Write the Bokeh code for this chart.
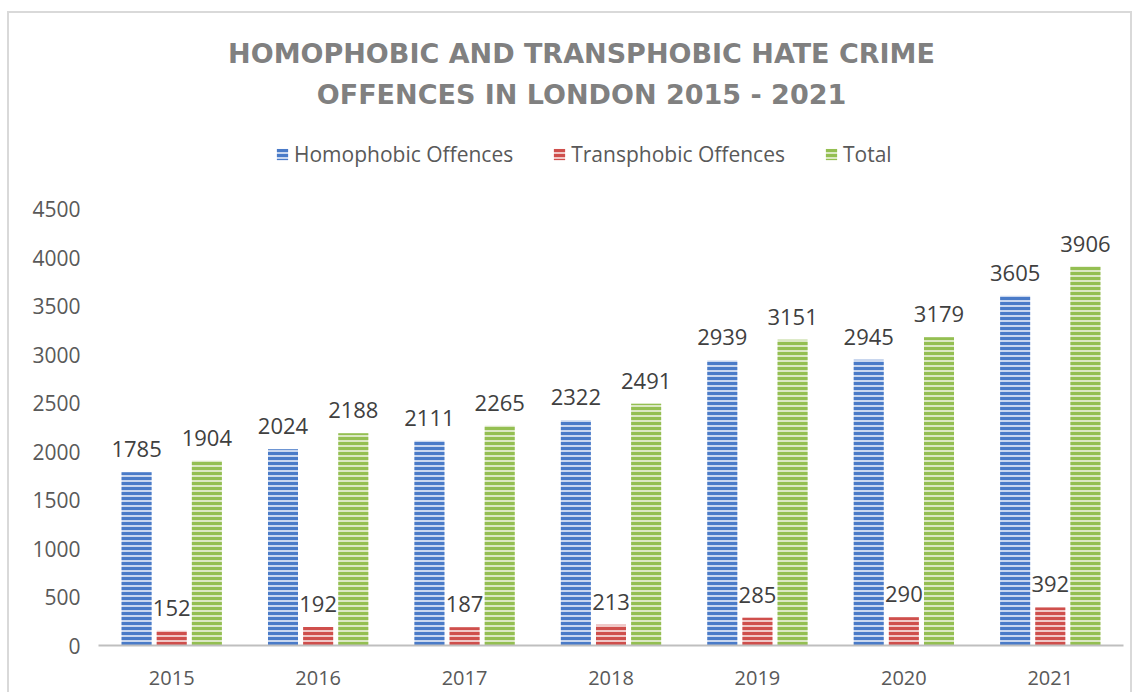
from bokeh.plotting import figure
from bokeh.models import ColumnDataSource, FactorRange, Legend, LegendItem, Label
from bokeh.transform import dodge
from bokeh.core.properties import value
from bokeh.embed import file_html
from bokeh.resources import INLINE

years = ["2015", "2016", "2017", "2018", "2019", "2020", "2021"]
homophobic = [1785, 2024, 2111, 2322, 2939, 2945, 3605]
transphobic = [152, 192, 187, 213, 285, 290, 392]
total = [1904, 2188, 2265, 2491, 3151, 3179, 3906]
series_names = ["Homophobic Offences", "Transphobic Offences", "Total"]
y_ticks = [0, 500, 1000, 1500, 2000, 2500, 3000, 3500, 4000, 4500]
title_lines = ["HOMOPHOBIC AND TRANSPHOBIC HATE CRIME", "OFFENCES IN LONDON 2015 - 2021"]

src = ColumnDataSource(dict(
    years=years, h=homophobic, t=transphobic, tot=total,
    hl=[str(v) for v in homophobic], tl=[str(v) for v in transphobic], totl=[str(v) for v in total],
))

FONT = "Open Sans"

# frame spans from the canvas top to the x axis; the 0-4500 scale occupies its lower part
FRAME_H = 645
AXIS_PX = 436.5
Y_END = 4500 * FRAME_H / AXIS_PX

p = figure(width=1132, height=692, x_range=FactorRange(*years), y_range=(0, Y_END),
           output_backend="svg", toolbar_location=None,
           min_border_left=98, min_border_right=9, min_border_top=0, min_border_bottom=47)
GR = "linear-gradient(#d9d9d9,#d9d9d9)"
p.styles = {"background": (f"{GR} 7px 11px / 2px calc(100% - 11px) no-repeat, "
                           f"{GR} 7px 11px / calc(100% - 9px) 2px no-repeat, "
                           f"{GR} calc(100% - 0px) 11px / 2px calc(100% - 11px) no-repeat, "
                           "#ffffff")}
p.border_fill_color = None
p.background_fill_color = None
p.outline_line_color = None
p.xgrid.grid_line_color = None
p.ygrid.grid_line_color = None
p.x_range.range_padding = 0

fills = ["#c9d7ef", "#f0c8c7", "#dbe8c4"]
hatches = ["#4a7bc8", "#cf4f4c", "#94bf52"]
fields = ["h", "t", "tot"]
labels = ["hl", "tl", "totl"]
offsets = [-0.24, 0.0, 0.24]
renderers = []
for f, lab, off, fc, hc in zip(fields, labels, offsets, fills, hatches):
    r = p.vbar(x=dodge("years", off, range=p.x_range), top=f, width=0.205, source=src,
               fill_color=fc, line_color=None, hatch_pattern="horizontal_line",
               hatch_color=hc, hatch_weight=3, hatch_scale=5)
    renderers.append(r)
    p.text(x=dodge("years", off, range=p.x_range), y=f, text=lab, source=src,
           text_align="center", text_baseline="alphabetic", y_offset=-23,
           text_font=value(FONT), text_font_size="22px", text_color="#404040")

legend = Legend(items=[LegendItem(label=n, renderers=[r]) for n, r in zip(series_names, renderers)],
                orientation="horizontal", location=(177, 477), padding=0, margin=0,
                border_line_color=None, background_fill_alpha=0,
                glyph_width=14, glyph_height=14, label_standoff=5, spacing=39,
                label_height=20,
                label_text_font=FONT, label_text_font_size="21px", label_text_color="#595959")
p.add_layout(legend, "center")

for txt, yy in zip(title_lines, [592, 551]):
    p.add_layout(Label(x=483, y=yy, x_units="screen", y_units="screen", text=txt,
                       text_align="center", text_baseline="alphabetic",
                       text_font="DejaVu Sans", text_font_style="bold", text_font_size="27px",
                       text_color="#808080"))

p.yaxis.ticker = y_ticks
p.yaxis.axis_line_color = None
p.yaxis.major_tick_line_color = None
p.yaxis.minor_tick_line_color = None
p.yaxis.major_label_standoff = 12
p.yaxis.major_label_text_font = FONT
p.yaxis.major_label_text_font_size = "21px"
p.yaxis.major_label_text_color = "#595959"

p.xaxis.axis_line_color = "#bfbfbf"
p.xaxis.axis_line_width = 2
p.xaxis.major_tick_line_color = None
p.xaxis.minor_tick_line_color = None
p.xaxis.major_label_standoff = 19
p.xaxis.major_label_text_font = FONT
p.xaxis.major_label_text_font_size = "20px"
p.xaxis.major_label_text_color = "#595959"

open("out.html", "w").write(file_html(p, INLINE))
